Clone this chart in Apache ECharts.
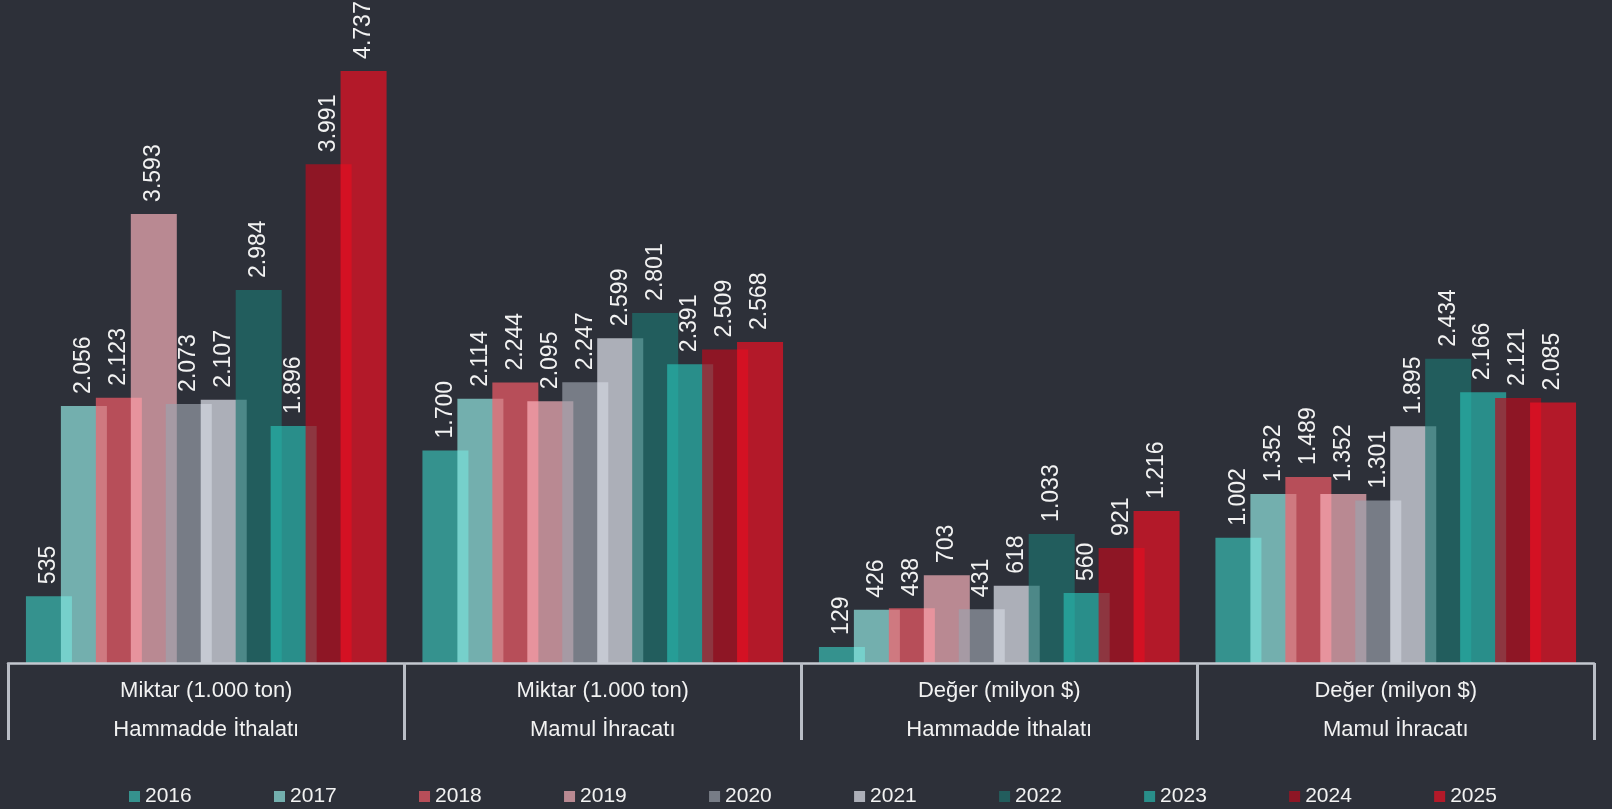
<!DOCTYPE html>
<html>
<head>
<meta charset="utf-8">
<style>
html,body{margin:0;padding:0;background:#2d3039;}
#chart{width:1612px;height:809px;}
</style>
<script src="https://cdn.jsdelivr.net/npm/echarts@6/dist/echarts.min.js"></script>
</head>
<body>
<div id="chart"></div>
<script>
// ---- data ----
const groupTop = ["Miktar (1.000 ton)", "Miktar (1.000 ton)", "Değer (milyon $)", "Değer (milyon $)"];
const groupBottom = ["Hammadde İthalatı", "Mamul İhracatı", "Hammadde İthalatı", "Mamul İhracatı"];
const years = ["2016","2017","2018","2019","2020","2021","2022","2023","2024","2025"];
const v2016 = [535, 1700, 129, 1002];
const v2017 = [2056, 2114, 426, 1352];
const v2018 = [2123, 2244, 438, 1489];
const v2019 = [3593, 2095, 703, 1352];
const v2020 = [2073, 2247, 431, 1301];
const v2021 = [2107, 2599, 618, 1895];
const v2022 = [2984, 2801, 1033, 2434];
const v2023 = [1896, 2391, 560, 2166];
const v2024 = [3991, 2509, 921, 2121];
const v2025 = [4737, 2568, 1216, 2085];
const seriesValues = [v2016, v2017, v2018, v2019, v2020, v2021, v2022, v2023, v2024, v2025];

// ---- styles ----
const colors = [
  "rgba(58,196,185,0.67)",
  "rgba(151,239,232,0.67)",
  "rgba(252,94,106,0.67)",
  "rgba(255,182,191,0.67)",
  "rgba(157,163,173,0.67)",
  "rgba(235,238,247,0.67)",
  "rgba(30,117,112,0.67)",
  "rgba(40,190,179,0.67)",
  "rgba(191,11,29,0.67)",
  "rgba(246,15,35,0.67)"
];
const FONT = '"Liberation Sans", Arial, Helvetica, sans-serif';

function fmt(v) {
  return String(v).replace(/\B(?=(\d{3})+(?!\d))/g, ".");
}

const categories = groupTop.map((t, i) => t + "\n" + groupBottom[i]);

const chart = echarts.init(document.getElementById("chart"), null, {renderer: "canvas"});
chart.setOption({
  backgroundColor: "#2d3039",
  animation: false,
  textStyle: {fontFamily: FONT},
  grid: {left: 8, right: 18, top: 38, bottom: 146, containLabel: false},
  legend: {
    data: years,
    left: 124,
    top: 781,
    icon: "rect",
    itemWidth: 11,
    itemHeight: 11,
    itemGap: 82.3,
    textStyle: {color: "#f2f2f2", fontSize: 21, fontFamily: FONT}
  },
  xAxis: {
    type: "category",
    data: categories,
    z: 10,
    axisLine: {show: true, lineStyle: {color: "#c4c8d0", width: 2.5}},
    axisTick: {show: true, length: 77, lineStyle: {color: "#b9bdc6", width: 3}},
    axisLabel: {
      color: "#f2f2f2",
      fontSize: 22,
      fontFamily: FONT,
      lineHeight: 39,
      margin: 8,
      interval: 0
    },
    splitLine: {show: false}
  },
  yAxis: {
    type: "value",
    min: 0,
    max: 5000,
    show: false,
    splitLine: {show: false}
  },
  series: seriesValues.map((vals, i) => ({
    name: years[i],
    type: "bar",
    data: vals,
    barWidth: 46,
    barGap: "-24%",
    itemStyle: {color: colors[i]},
    label: {
      show: true,
      position: "top",
      rotate: 90,
      align: "left",
      verticalAlign: "middle",
      distance: 12,
      color: "#f2f2f2",
      fontSize: 23,
      fontFamily: FONT,
      formatter: p => fmt(p.value)
    }
  }))
});
</script>
</body>
</html>
